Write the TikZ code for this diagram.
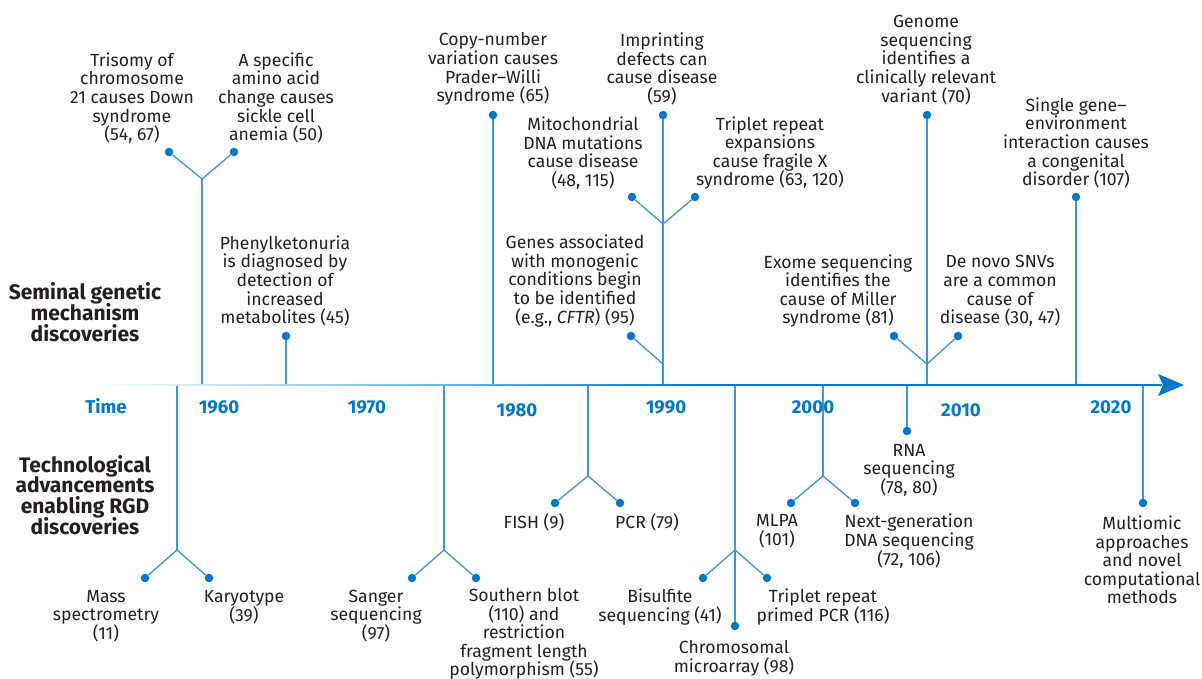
\documentclass[tikz,border=0pt]{standalone}
\usepackage{fontspec}
\setmainfont{Fira Sans}
\usetikzlibrary{positioning}
\definecolor{rgdblue}{HTML}{0077C8}
\definecolor{linkblue}{HTML}{3D95D5}
\definecolor{inkgray}{HTML}{231F20}
\pgfdeclarehorizontalshading{axisfade}{5bp}{color(0bp)=(white); color(25bp)=(white); color(54bp)=(rgdblue); color(100bp)=(rgdblue)}
\tikzset{
  event/.style={
      align=center, text=inkgray, inner sep=0pt,
      font={\fontsize{17.6}{18.6}\selectfont\lineskiplimit=-20pt},
  },
  era/.style={
      align=center, text=inkgray, inner sep=0pt,
      font={\bfseries\fontsize{21}{20.8}\selectfont\lineskiplimit=-20pt},
  },
  year/.style={
      text=rgdblue, inner sep=0pt,
      font={\bfseries\fontsize{18.6}{20}\selectfont},
  },
  pin/.style={circle, fill=rgdblue, inner sep=0pt, minimum size=8.5pt},
  link/.style={draw=linkblue, line width=1.3pt},
}

\begin{document}
\begin{tikzpicture}[x=1pt,y=-1pt]
\useasboundingbox (0,0) rectangle (1202,679);

% row headings
\node [era] (seminal) at (85,312) {Seminal genetic\\mechanism\\discoveries};
\node [era] (techno) at (85,495) {Technological\\advancements\\enabling RGD\\discoveries};

% discoveries above the time line
\node [pin] (tripin) at (169,152) {};
\node [pin] (sicklepin) at (234,152) {};
\coordinate (hbfork) at (202,179);
\coordinate (hbbase) at (202,385);
\node [event] (trisomy) at (132,98) {Trisomy of\\chromosome\\21 causes Down\\syndrome\\(54, 67)};
\node [event] (sickle) at (276,98) {A specific\\amino acid\\change causes\\sickle cell\\anemia (50)};
\draw [link] (tripin) -- (hbfork) -- (sicklepin);
\draw [link] (hbfork) -- (hbbase);

\node [pin] (pkupin) at (286,336) {};
\coordinate (pkubase) at (286,385);
\node [event] (pku) at (285,281) {Phenylketonuria\\is diagnosed by\\detection of\\increased\\metabolites (45)};
\draw [link] (pkupin) -- (pkubase);

\node [pin] (cnvpin) at (493,115) {};
\coordinate (cnvbase) at (493,385);
\node [event] (cnv) at (493,69) {Copy-number\\variation causes\\Prader–Willi\\syndrome (65)};
\draw [link] (cnvpin) -- (cnvbase);

\node [pin] (imprpin) at (663,115) {};
\coordinate (imprbase) at (663,385);
\node [event] (imprint) at (662,69) {Imprinting\\defects can\\cause disease\\(59)};
\draw [link] (imprpin) -- (imprbase);

\node [pin] (mitopin) at (632,197) {};
\node [pin] (fragxpin) at (695,197) {};
\coordinate (mitofork) at (663,224);
\node [event] (mito) at (583,153) {Mitochondrial\\DNA mutations\\cause disease\\(48, 115)};
\node [event] (fragx) at (770,153) {Triplet repeat\\expansions\\cause fragile X\\syndrome (63, 120)};
\draw [link] (mitopin) -- (mitofork) -- (fragxpin);

\node [pin] (genespin) at (631,336) {};
\coordinate (genesjoin) at (663,364);
\node [event] (genes) at (575,281) {Genes associated\\with monogenic\\conditions begin\\to be identified\\(e.g., \textit{CFTR}) (95)};
\draw [link] (genespin) -- (genesjoin);

\node [pin] (genomepin) at (927,115) {};
\coordinate (genomebase) at (927,385);
\node [event] (genome) at (926,60) {Genome\\sequencing\\identifies a\\clinically relevant\\variant (70)};
\draw [link] (genomepin) -- (genomebase);

\node [pin] (exomepin) at (894,336) {};
\node [pin] (snvpin) at (958,336) {};
\coordinate (exomefork) at (927,364);
\node [event] (exome) at (838,291) {Exome sequencing\\identifies the\\cause of Miller\\syndrome (81)};
\node [event] (snv) at (1000,291) {De novo SNVs\\are a common\\cause of\\disease (30, 47)};
\draw [link] (exomepin) -- (exomefork) -- (snvpin);

\node [pin] (gxepin) at (1076,197) {};
\coordinate (gxebase) at (1076,385);
\node [event] (gxe) at (1076,143) {Single gene–\\environment\\interaction causes\\a congenital\\disorder (107)};
\draw [link] (gxepin) -- (gxebase);

% technologies below the time line
\node [pin] (masspin) at (145,578) {};
\node [pin] (karyopin) at (209,578) {};
\coordinate (massfork) at (177,550);
\coordinate (massbase) at (177,385);
\node [event] (mass) at (106,616) {Mass\\spectrometry\\(11)};
\node [event] (karyo) at (244,607) {Karyotype\\(39)};
\draw [link] (masspin) -- (massfork) -- (karyopin);
\draw [link] (massfork) -- (massbase);

\node [pin] (sangerpin) at (412,578) {};
\node [pin] (blotpin) at (476,578) {};
\coordinate (sangerfork) at (444,550);
\coordinate (sangerbase) at (444,385);
\node [event] (sanger) at (376,616) {Sanger\\sequencing\\(97)};
\node [event] (blot) at (524,634) {Southern blot\\(110) and\\restriction\\fragment length\\polymorphism (55)};
\draw [link] (sangerpin) -- (sangerfork) -- (blotpin);
\draw [link] (sangerfork) -- (sangerbase);

\node [pin] (fishpin) at (555,503) {};
\node [pin] (pcrpin) at (620,503) {};
\coordinate (fishfork) at (588,476);
\coordinate (fishbase) at (588,385);
\node [event] (fish) at (534,522) {FISH (9)};
\node [event] (pcr) at (647,522) {PCR (79)};
\draw [link] (fishpin) -- (fishfork) -- (pcrpin);
\draw [link] (fishfork) -- (fishbase);

\node [pin] (bisulpin) at (703,578) {};
\node [pin] (tppin) at (767,578) {};
\node [pin] (arraypin) at (735,626) {};
\coordinate (bisulfork) at (735,550);
\coordinate (bisulbase) at (735,385);
\node [event] (bisul) at (660,607) {Bisulfite\\sequencing (41)};
\node [event] (tp) at (823,607) {Triplet repeat\\primed PCR (116)};
\node [event] (array) at (734,658) {Chromosomal\\microarray (98)};
\draw [link] (bisulpin) -- (bisulfork) -- (tppin);
\draw [link] (bisulbase) -- (arraypin);

\node [pin] (mlpapin) at (791,503) {};
\node [pin] (ngspin) at (855,503) {};
\coordinate (mlpafork) at (823,476);
\coordinate (mlpabase) at (823,385);
\node [event] (mlpa) at (777,531) {MLPA\\(101)};
\node [event] (ngs) at (909,541) {Next-generation\\DNA sequencing\\(72, 106)};
\draw [link] (mlpapin) -- (mlpafork) -- (ngspin);
\draw [link] (mlpafork) -- (mlpabase);

\node [pin] (rnapin) at (907,431) {};
\coordinate (rnabase) at (907,385);
\node [event] (rna) at (909,470) {RNA\\sequencing\\(78, 80)};
\draw [link] (rnabase) -- (rnapin);

\node [pin] (omicpin) at (1143,503) {};
\coordinate (omicbase) at (1143,385);
\node [event] (omic) at (1142,560) {Multiomic\\approaches\\and novel\\computational\\methods};
\draw [link] (omicbase) -- (omicpin);

% time line
\coordinate (axstart) at (90,385);
\coordinate (axtip) at (1184,385);
\shade [shading=axisfade] (90,382.5) rectangle (1162,387.5);
\fill [rgdblue] (axtip) -- (1158,374) -- (1163,385) -- (1158,396) -- cycle;

\node [year] (time) at (106,406) {Time};
\node [year] (y1960) at (219,407) {1960};
\node [year] (y1970) at (367,407) {1970};
\node [year] (y1980) at (517,410) {1980};
\node [year] (y1990) at (666,407) {1990};
\node [year] (y2000) at (813,407) {2000};
\node [year] (y2010) at (961,410) {2010};
\node [year] (y2020) at (1111,407) {2020};
\end{tikzpicture}
\end{document}
